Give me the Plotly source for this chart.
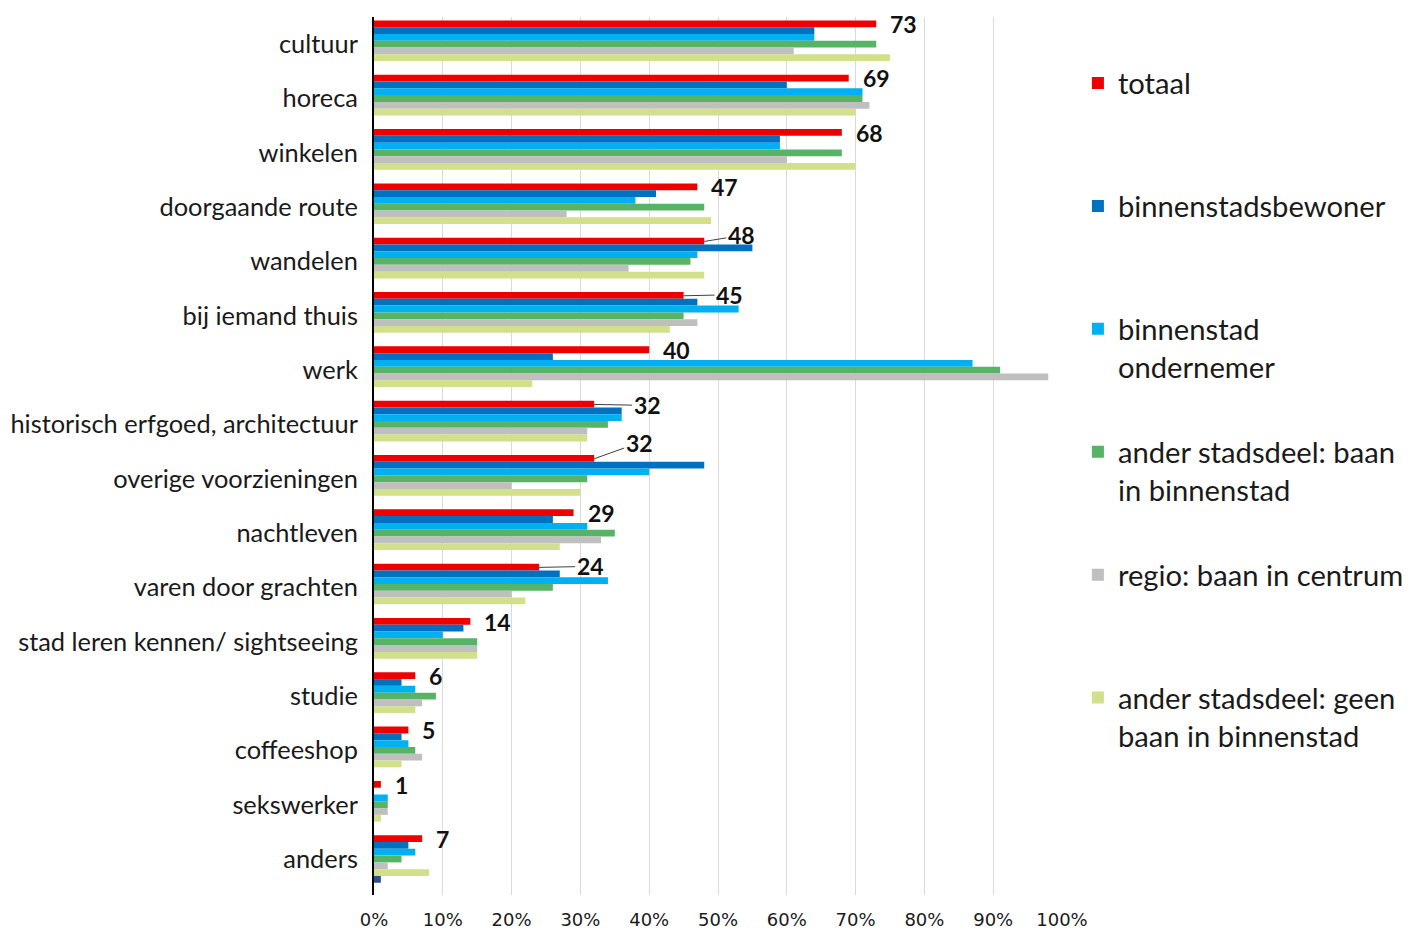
import plotly.graph_objects as go

categories = [
    "cultuur", "horeca", "winkelen", "doorgaande route", "wandelen",
    "bij iemand thuis", "werk", "historisch erfgoed, architectuur",
    "overige voorzieningen", "nachtleven", "varen door grachten",
    "stad leren kennen/ sightseeing", "studie", "coffeeshop",
    "sekswerker", "anders",
]

totaal = [73, 69, 68, 47, 48, 45, 40, 32, 32, 29, 24, 14, 6, 5, 1, 7]
binnenstadsbewoner = [64, 60, 59, 41, 55, 47, 26, 36, 48, 26, 27, 13, 4, 4, 0, 5]
binnenstad_ondernemer = [64, 71, 59, 38, 47, 53, 87, 36, 40, 31, 34, 10, 6, 5, 2, 6]
stadsdeel_baan = [73, 71, 68, 48, 46, 45, 91, 34, 31, 35, 26, 15, 9, 6, 2, 4]
regio_baan = [61, 72, 60, 28, 37, 47, 98, 31, 20, 33, 20, 15, 7, 7, 2, 2]
stadsdeel_geen_baan = [75, 70, 70, 49, 48, 43, 23, 31, 30, 27, 22, 15, 6, 4, 1, 8]
overig = [None] * 15 + [1]

series = [
    ("totaal<br>\u00a0", totaal, "#EE0000"),
    ("binnenstadsbewoner<br>\u00a0", binnenstadsbewoner, "#0070C0"),
    ("binnenstad<br>ondernemer", binnenstad_ondernemer, "#00B0F0"),
    ("ander stadsdeel: baan<br>in binnenstad", stadsdeel_baan, "#57B466"),
    ("regio: baan in centrum<br>\u00a0", regio_baan, "#BFBFBF"),
    ("ander stadsdeel: geen<br>baan in binnenstad", stadsdeel_geen_baan, "#D2DF8B"),
]

# labels that need a small leader line: category -> (dx, dy) in pixels
leader = {
    "wandelen": (37, -6),
    "bij iemand thuis": (46, -1),
    "historisch erfgoed, architectuur": (53, 1),
    "overige voorzieningen": (45, -16),
    "varen door grachten": (51, -1),
}

FONT = "Lato, 'Open Sans', sans-serif"

fig = go.Figure()

for i, (name, vals, color) in enumerate(series):
    fig.add_trace(go.Bar(
        y=categories,
        x=vals,
        name=name,
        orientation="h",
        marker=dict(color=color, line=dict(width=0)),
        legendgroup=f"g{i}",
    ))

fig.add_trace(go.Bar(
    y=categories,
    x=overig,
    name="overig",
    orientation="h",
    marker=dict(color="#2F4E8E", line=dict(width=0)),
    showlegend=False,
))

annotations = []
for cat, val in zip(categories, totaal):
    if cat in leader:
        dx, dy = leader[cat]
        annotations.append(dict(
            x=val, y=cat, xref="x", yref="y", yshift=20,
            text=f"<b>{val}</b>", showarrow=True, arrowhead=0,
            arrowwidth=1, arrowcolor="#404040", standoff=0,
            ax=dx, ay=dy, axref="pixel", ayref="pixel",
            font=dict(family=FONT, size=23, color="#111111"),
        ))
    else:
        annotations.append(dict(
            x=val, y=cat, xref="x", yref="y", yshift=20, xshift=12,
            xanchor="left", text=f"<b>{val}</b>", showarrow=False,
            font=dict(family=FONT, size=23, color="#111111"),
        ))

fig.update_layout(
    width=1405,
    height=922,
    barmode="group",
    bargap=0.126,
    bargroupgap=0,
    plot_bgcolor="white",
    paper_bgcolor="white",
    margin=dict(l=366, r=351, t=9, b=35),
    font=dict(family=FONT, color="#1a1a1a"),
    annotations=annotations,
    legend=dict(
        xref="container", yref="container",
        x=0.7615, xanchor="left",
        y=0.9463, yanchor="top",
        maxheight=1000,
        font=dict(family=FONT, size=29.2, color="#1a1a1a"),
        valign="top",
        tracegroupgap=44,
        bgcolor="rgba(0,0,0,0)",
    ),
    xaxis=dict(
        range=[0, 100],
        dtick=10,
        ticksuffix="%",
        showgrid=True,
        gridcolor="#D9D9D9",
        gridwidth=1,
        zeroline=False,
        showline=False,
        automargin=False,
        ticklabelstandoff=12,
        tickfont=dict(family="'DejaVu Sans', sans-serif", size=18, color="#1a1a1a"),
        fixedrange=True,
    ),
    yaxis=dict(
        autorange="reversed",
        showline=True,
        linecolor="#000000",
        linewidth=2,
        showgrid=False,
        ticks="",
        automargin=False,
        ticklabelstandoff=9,
        tickfont=dict(family=FONT, size=25.4, color="#1a1a1a"),
        fixedrange=True,
    ),
)

fig.write_html("out.html")
